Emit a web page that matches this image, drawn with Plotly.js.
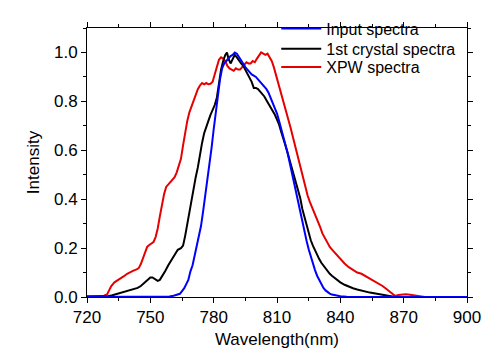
<!DOCTYPE html>
<html>
<head>
<meta charset="utf-8">
<script src="https://cdn.plot.ly/plotly-3.0.1.min.js"></script>
<style>html,body{margin:0;padding:0;background:#fff;}#chart{width:490px;height:361px;}</style>
</head>
<body>
<div id="chart"></div>
<script>
// Input spectra
var inputWl = [720,740,755,759,761,763,764,766,768,769,770,771,772,773,774,775,776,777,778,779,780,781,782,783,784,785,786,787,788,789,790,791,792,793,794,795,796,797,798,799,800,801,802,803,804,805,806,807,808,809,810,811,812,813,814,815,816,817,818,819,820,821,822,823,824,825,826,827,828,829,830,831,832,833,834,835,836,838,840,843,850,900];
var inputInt = [0,0,0,0.002,0.005,0.01,0.013,0.035,0.07,0.105,0.13,0.17,0.21,0.25,0.29,0.35,0.41,0.47,0.54,0.61,0.685,0.75,0.835,0.89,0.935,0.955,0.965,0.975,0.985,0.99,1.0,0.995,0.98,0.965,0.955,0.94,0.93,0.92,0.91,0.905,0.9,0.89,0.88,0.87,0.86,0.85,0.835,0.815,0.795,0.775,0.75,0.72,0.69,0.66,0.625,0.59,0.55,0.51,0.465,0.425,0.385,0.34,0.30,0.265,0.23,0.195,0.165,0.138,0.11,0.087,0.068,0.05,0.037,0.027,0.02,0.014,0.01,0.005,0.003,0.001,0,0];

// 1st crystal spectra
var crystalWl = [720,728,730,732,734,736,738,740,742,744,745.5,747,748.5,750,751,752,753.5,754.5,755.5,757,758.5,760,761.5,763,764.5,765.5,766.5,767.5,768.5,769.5,770.5,771.5,772.5,773.5,774.5,775.5,776.5,777.5,778.5,779.5,780.5,781.5,782.5,783.5,784.5,785.5,786.3,787,788,789,790,791,792,793,794,795,796,797,798,799,800,801,802,803,804,805,806,807,808,809,810,811,812,813,814,815,816,817,818,819,820,821,822,823,824,825,826,827,828,829,830,831,832,833,834,835,836,838,840,842,844,846,848,850,852,854,856,858,860,862,864,866,900];
var crystalInt = [0,0,0.003,0.007,0.012,0.017,0.022,0.026,0.03,0.037,0.045,0.056,0.07,0.08,0.08,0.075,0.066,0.07,0.083,0.105,0.13,0.15,0.175,0.193,0.2,0.21,0.25,0.30,0.35,0.40,0.45,0.49,0.53,0.585,0.63,0.67,0.70,0.72,0.745,0.765,0.785,0.815,0.87,0.93,0.965,0.99,1.0,0.975,0.955,0.975,0.99,0.98,0.965,0.955,0.945,0.93,0.915,0.9,0.88,0.855,0.855,0.85,0.84,0.83,0.82,0.805,0.79,0.78,0.765,0.745,0.725,0.705,0.675,0.65,0.62,0.59,0.56,0.53,0.5,0.47,0.44,0.405,0.36,0.325,0.295,0.26,0.232,0.21,0.19,0.17,0.155,0.14,0.128,0.115,0.103,0.095,0.087,0.073,0.06,0.05,0.042,0.036,0.031,0.026,0.021,0.018,0.015,0.012,0.008,0.005,0.002,0,0];

// XPW spectra
var xpwWl = [720,725,728,729.5,730.5,731.5,733,734.5,736,737.5,739,740.5,742,743.5,744.5,745.5,746.5,747.5,748.5,749.5,750.5,751.5,752.5,753.5,754.5,755.5,756.5,757.5,758.5,759.5,760.5,761.5,762.5,763.5,764.5,765.5,766.5,767.5,768.5,769.5,770.5,771.5,772.5,773.5,774.5,775.5,776.5,777.5,778.5,779.5,780.5,781.5,782.5,783.5,784.5,785.5,786.5,787.5,788.5,789.5,790.5,791.5,792.5,793.5,794.5,795.5,796.5,797.5,798.5,799.5,800.5,801.5,802.5,803.5,804.5,805.5,806.5,807.5,808.5,809.5,810.5,811.5,812.5,813.5,814.5,815.5,816.5,817.5,818.5,819.5,820.5,821.5,822.5,823.5,824.5,825.5,826.5,827.5,828.5,829.5,830.5,831.5,832.5,833.5,835,836.5,838,840,842,844,846,848,850,852,854,856,858,860,862,863.5,865,866,867.5,869,871,873,875,877,880,900];
var xpwInt = [0.004,0.004,0.005,0.01,0.025,0.045,0.06,0.068,0.075,0.085,0.095,0.103,0.108,0.113,0.118,0.135,0.16,0.188,0.205,0.213,0.218,0.225,0.245,0.28,0.33,0.38,0.42,0.45,0.46,0.47,0.48,0.49,0.51,0.535,0.565,0.62,0.675,0.72,0.755,0.78,0.80,0.825,0.85,0.865,0.875,0.87,0.875,0.87,0.872,0.88,0.91,0.94,0.97,0.98,0.975,0.965,0.945,0.935,0.93,0.925,0.935,0.93,0.93,0.94,0.95,0.96,0.955,0.955,0.965,0.96,0.975,0.99,1.0,0.995,0.99,0.995,0.98,0.965,0.94,0.91,0.88,0.85,0.82,0.79,0.755,0.72,0.69,0.655,0.62,0.585,0.55,0.515,0.48,0.445,0.415,0.39,0.37,0.345,0.325,0.305,0.285,0.26,0.245,0.228,0.205,0.19,0.175,0.155,0.137,0.122,0.11,0.1,0.095,0.085,0.075,0.065,0.056,0.045,0.032,0.02,0.008,0.004,0.008,0.01,0.011,0.009,0.006,0.002,0,0];

var seriesNames = ['Input spectra', '1st crystal spectra', 'XPW spectra'];
var xTickVals = [720, 750, 780, 810, 840, 870, 900];
var yTickVals = [0.0, 0.2, 0.4, 0.6, 0.8, 1.0];

var FONT = 'Arial, "Liberation Sans", sans-serif';

var traces = [
  {x: xpwWl, y: xpwInt, name: seriesNames[2], mode: 'lines', line: {color: '#e60000', width: 2}, legend: 'legend3'},
  {x: crystalWl, y: crystalInt, name: seriesNames[1], mode: 'lines', line: {color: '#000000', width: 2}, legend: 'legend2'},
  {x: inputWl, y: inputInt, name: seriesNames[0], mode: 'lines', line: {color: '#0000ff', width: 2}, legend: 'legend'}
];

var axisCommon = {
  showline: true, linecolor: '#000', linewidth: 1, mirror: 'ticks',
  ticks: 'outside', ticklen: 5, tickwidth: 1, tickcolor: '#000',
  showgrid: false, zeroline: false,
  tickfont: {family: FONT, size: 17, color: '#000'}
};

function legendAt(yPos) {
  return {
    x: 0.498, y: yPos, xanchor: 'left', yanchor: 'top',
    bgcolor: 'rgba(0,0,0,0)', borderwidth: 0,
    font: {family: FONT, size: 16, color: '#000'},
    itemwidth: 40
  };
}

var layout = {
  width: 490, height: 361,
  margin: {l: 87, r: 23, t: 18, b: 64, pad: 0},
  paper_bgcolor: '#fff', plot_bgcolor: '#fff',
  font: {family: FONT, color: '#000'},
  showlegend: true,
  legend: legendAt(1.061),
  legend2: legendAt(0.986),
  legend3: legendAt(0.918),
  xaxis: Object.assign({}, axisCommon, {
    range: [720, 900], tickmode: 'array', tickvals: xTickVals,
    minor: {dtick: 15, tick0: 720, ticks: 'outside', ticklen: 3, tickcolor: '#000'},
    title: {text: 'Wavelength(nm)', font: {family: FONT, size: 17, color: '#000'}, standoff: 6}
  }),
  yaxis: Object.assign({}, axisCommon, {
    range: [0, 1.1], tickmode: 'array', tickvals: yTickVals, tickformat: '.1f',
    minor: {dtick: 0.1, tick0: 0, ticks: 'outside', ticklen: 3, tickcolor: '#000'},
    title: {text: 'Intensity', font: {family: FONT, size: 17, color: '#000'}, standoff: 10}
  })
};

Plotly.newPlot('chart', traces, layout, {staticPlot: true, displayModeBar: false});
</script>
</body>
</html>
